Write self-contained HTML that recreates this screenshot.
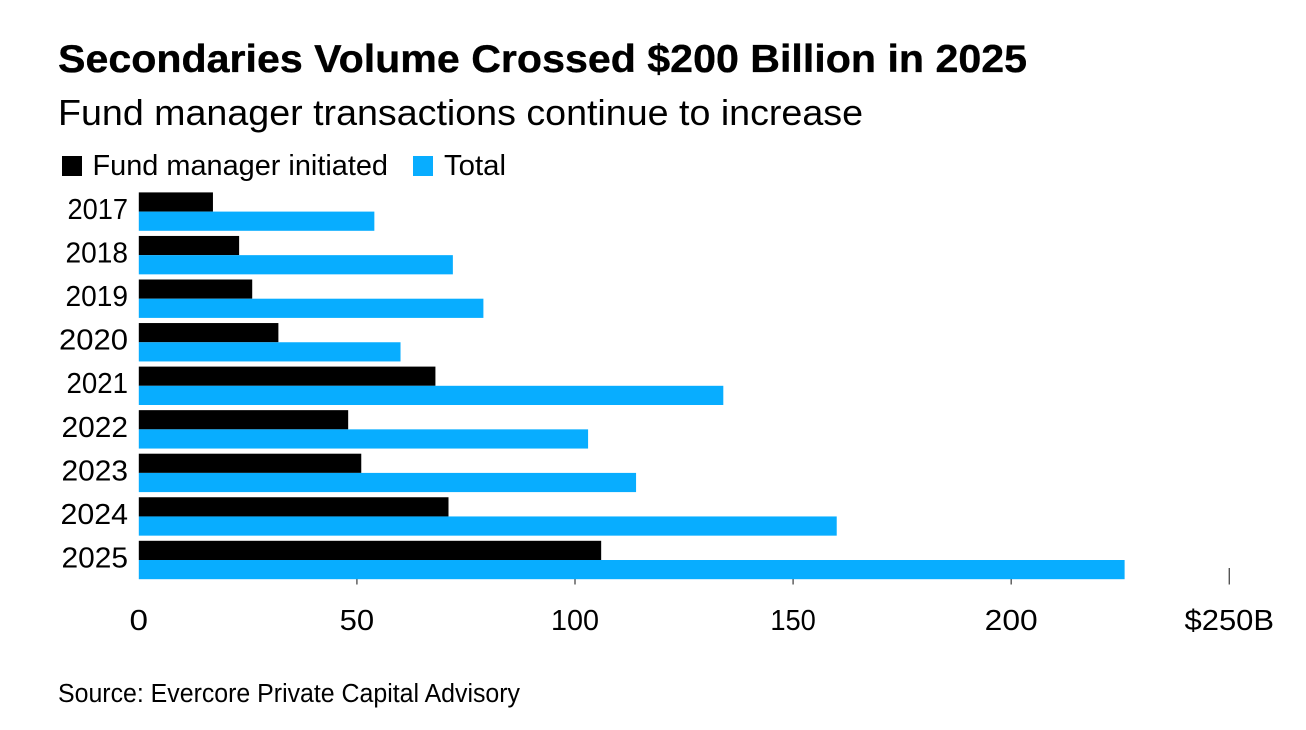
<!DOCTYPE html>
<html lang="en">
<head>
<meta charset="utf-8">
<title>Secondaries Volume Crossed $200 Billion in 2025</title>
<style>
html,body{margin:0;padding:0;background:#fff;width:1306px;height:730px;overflow:hidden}
svg{display:block}
text{font-family:"Liberation Sans",sans-serif;fill:#000}
</style>
</head>
<body>
<svg id="chart" width="1306" height="730" viewBox="0 0 1306 730" xmlns="http://www.w3.org/2000/svg">
  <text x="58" y="72" font-size="39" font-weight="700" stroke="#000" stroke-width="0.35" textLength="969" lengthAdjust="spacingAndGlyphs">Secondaries Volume Crossed $200 Billion in 2025</text>
  <text x="58" y="125" font-size="36" textLength="805" lengthAdjust="spacingAndGlyphs">Fund manager transactions continue to increase</text>
  <g>
    <rect x="62" y="156" width="20" height="20" fill="#000"/>
    <text x="92.5" y="175" font-size="28.5" textLength="295.5" lengthAdjust="spacingAndGlyphs">Fund manager initiated</text>
    <rect x="413" y="156" width="20" height="20" fill="#08adff"/>
    <text x="444" y="175" font-size="28.5" textLength="62" lengthAdjust="spacingAndGlyphs">Total</text>
  </g>
  <g id="ticks"></g>
  <g id="bars"></g>
  <g id="y-labels"></g>
  <g id="x-labels"></g>
  <text x="58" y="702" font-size="25.5" textLength="462" lengthAdjust="spacingAndGlyphs">Source: Evercore Private Capital Advisory</text>
</svg>
<script>
const categories = ['2017', '2018', '2019', '2020', '2021', '2022', '2023', '2024', '2025'];
const fundManagerInitiated = [17, 23, 26, 32, 68, 48, 51, 71, 106];
const totalVolume = [54, 72, 79, 60, 134, 103, 114, 160, 226];
const tickValues = [0, 50, 100, 150, 200, 250];
const tickLabels = ['0', '50', '100', '150', '200', '$250B'];

const NS = 'http://www.w3.org/2000/svg';
const X0 = 138.8;
const X_SCALE = (1229.3 - 138.8) / 250;
const BAND_TOP = 192.4;
const BAND_STEP = 43.55;
const BAR_H = 19.2;
/* Advance widths approximating the reference's proportional figures */
const GLYPH_W = { '0': 18.5, '1': 11, '2': 16, '3': 16, '4': 17, '5': 16, '6': 17, '7': 15, '8': 17, '9': 17, '$': 19, 'B': 20 };

function xPos(value) {
  return X0 + value * X_SCALE;
}
function bandY(index) {
  return BAND_TOP + index * BAND_STEP;
}
function labelWidth(str) {
  return str.split('').reduce(function (sum, ch) { return sum + GLYPH_W[ch]; }, 0);
}
function make(tag, parentId, props) {
  const el = document.createElementNS(NS, tag);
  Object.keys(props).forEach(function (k) { el.setAttribute(k, props[k]); });
  document.getElementById(parentId).appendChild(el);
  return el;
}

tickValues.forEach(function (v, i) {
  const x = xPos(v);
  if (v !== 0) {
    const tick = make('line', 'ticks', { x1: x, x2: x, y1: 568, y2: 584.5, stroke: '#555', 'stroke-width': 1.4 });
    
    
  }
  const w = labelWidth(tickLabels[i]);
  const label = make('text', 'x-labels', { x: x - w / 2, y: 630, 'font-size': 29, textLength: w, lengthAdjust: 'spacingAndGlyphs' });
  
  
  label.textContent = tickLabels[i];
});

categories.forEach(function (year, i) {
  const y = bandY(i);
  const black = make('rect', 'bars', { x: X0, y: y, width: xPos(fundManagerInitiated[i]) - X0, height: BAR_H, fill: '#000' });
  
  
  const blue = make('rect', 'bars', { x: X0, y: y + BAR_H, width: xPos(totalVolume[i]) - X0, height: BAR_H, fill: '#08adff' });
  
  
  const w = labelWidth(year);
  const label = make('text', 'y-labels', { x: 128 - w, y: y + 26.6, 'font-size': 29, textLength: w, lengthAdjust: 'spacingAndGlyphs' });
  
  
  label.textContent = year;
});
</script>
</body>
</html>
